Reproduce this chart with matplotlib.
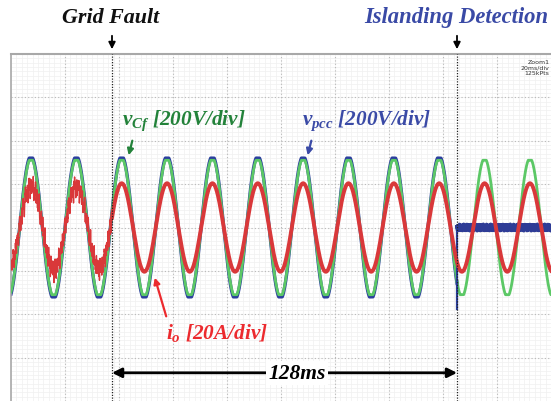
import numpy as np
import matplotlib
matplotlib.use("Agg")
import matplotlib.pyplot as plt

# ---------------- data ----------------
time_window_ms = [0.0, 200.0]          # 10 div x 20 ms/div
volt_div_range = [-4.0, 4.0]           # 8 vertical divisions
period_ms = 16.8                       # one grid cycle
first_peak_ms = 7.4                    # time of first voltage peak
fault_ms = 37.4                        # grid fault instant
islanding_ms = 165.2                   # islanding detection instant
v_amp_div = [1.55, 1.55]               # v_Cf amplitude (div) before / after islanding
vpcc_amp_div = 1.60                    # v_pcc amplitude before islanding (div)
vpcc_islanded_div = 0.0                # v_pcc level after islanding (div)
vpcc_spike_div = -1.87                 # v_pcc transient at islanding (div)
io_amp_div = [0.95, 1.02]              # i_o amplitude before / after the fault
# pre-fault current ripple components: (frequency kHz, amplitude div)
io_ripple = [(1.37, 0.09), (2.31, 0.08), (3.73, 0.07), (5.93, 0.05), (0.83, 0.05), (8.3, 0.04)]
# small noise band of islanded v_pcc: (frequency kHz, amplitude div)
vpcc_ripple = [(3.3, 0.03), (5.1, 0.025), (7.7, 0.02)]

event_labels = ["Grid Fault", "Islanding Detection"]
trace_labels = ["v_{Cf}", "v_{pcc}", "i_o"]
trace_scales = ["[200V/div]", "[200V/div]", "[20A/div]"]
interval_label = "128ms"
scope_info = "Zoom1\n20ms/div\n125kPts"

# ---------------- figure ----------------
W, H = 551, 402
plt.rcParams["mathtext.fontset"] = "custom"
plt.rcParams["mathtext.it"] = "Liberation Serif:italic:bold"
plt.rcParams["mathtext.rm"] = "Liberation Serif:bold"
fig = plt.figure(figsize=(W / 100, H / 100), dpi=100)

def fx(px):
    return px / W

def fy(py):
    return 1 - py / H

ax = fig.add_axes([fx(11), 0.0, 1 - fx(11), fy(55)])
ax.set_xlim(*time_window_ms)
ax.set_ylim(*volt_div_range)

# grid
for i in range(0, 101):
    ax.axvline(i * 2.0, color="#f0f0f0", lw=0.5, zorder=0)
for i in range(0, 81):
    ax.axhline(-4 + i * 0.1, color="#f0f0f0", lw=0.5, zorder=0)
for i in range(1, 10):
    ax.axvline(i * 20.0, color="#b8b8b8", lw=0.8, ls=(0, (1, 2)), zorder=0.5)
for i in range(-3, 4):
    ax.axhline(i, color="#b8b8b8", lw=0.8, ls=(0, (1, 2)), zorder=0.5)
ax.set_xticks([])
ax.set_yticks([])
for s in ["right", "bottom"]:
    ax.spines[s].set_visible(False)
ax.spines["left"].set_color("#a8a8a8")
ax.spines["left"].set_linewidth(1.2)
ax.spines["top"].set_color("#a8a8a8")
ax.spines["top"].set_linewidth(1.5)

# waveforms
t = np.linspace(time_window_ms[0], time_window_ms[1], 12000)
phase = 2 * np.pi * (t - first_peak_ms) / period_ms
base = np.cos(phase)

v_cf = np.where(t < islanding_ms, v_amp_div[0], v_amp_div[1]) * np.clip(base * 1.03, -1, 1)
v_pcc_pre = vpcc_amp_div * np.clip(base * 1.03, -1, 1)
v_ripple = sum(a * np.sin(2 * np.pi * f * t + 0.7 * k) for k, (f, a) in enumerate(vpcc_ripple))
v_pcc = np.where(t < islanding_ms, v_pcc_pre, vpcc_islanded_div + v_ripple)

i_ripple = sum(a * np.sin(2 * np.pi * f * t + k) for k, (f, a) in enumerate(io_ripple))
i_o = np.where(t < fault_ms, io_amp_div[0] * base + i_ripple, io_amp_div[1] * base)

pre = t < islanding_ms
post = t >= islanding_ms
ax.plot(t[pre], v_pcc[pre], color="#2b3f9e", lw=2.4, zorder=2)
ax.plot(t[pre], v_cf[pre], color="#5cc866", lw=2.0, zorder=3)
ax.plot(t[post], v_cf[post], color="#5cc866", lw=2.0, zorder=3)
ax.plot(t[post], v_pcc[post], color="#2e3c96", lw=2.6, zorder=4)
ax.plot([islanding_ms, islanding_ms], [vpcc_spike_div, vpcc_islanded_div],
        color="#2b3f9e", lw=1.6, zorder=4)

fault = t < fault_ms
ax.plot(t[fault], i_o[fault], color="#d9383a", lw=1.0, zorder=5)
ax.plot(t[~fault], i_o[~fault], color="#d9383a", lw=2.8, zorder=5)

# event markers
for ev in [fault_ms, islanding_ms]:
    ax.axvline(ev, color="#222222", lw=0.9, ls=(0, (1, 1.2)), zorder=6)

# interval arrow
ax.annotate("", xy=(fault_ms, -3.35), xytext=(islanding_ms, -3.35),
            arrowprops=dict(arrowstyle="<|-|>", color="black", lw=2.0,
                            mutation_scale=14, shrinkA=0, shrinkB=0), zorder=7)
ax.text(106.0, -3.35, interval_label, ha="center", va="center",
        fontsize=15.5, family="Liberation Serif", weight="bold", style="italic",
        color="black", zorder=8,
        bbox=dict(facecolor="white", edgecolor="none", pad=1.5))

# scope info
ax.text(199.5, 3.88, scope_info, ha="right", va="top", fontsize=4.5,
        family="DejaVu Sans", color="#333333", linespacing=1.1)

# titles
tf = dict(family="Liberation Serif", weight="bold", style="italic")
fig.text(fx(111), fy(18), event_labels[0], ha="center", va="center", fontsize=15.8,
         color="#111111", **tf)
fig.text(fx(456), fy(18), event_labels[1], ha="center", va="center", fontsize=16.3,
         color="#3a4aa6", **tf)
for xp in [112, 457]:
    fig.add_artist(matplotlib.patches.FancyArrowPatch(
        (fx(xp), fy(34)), (fx(xp), fy(53)), transform=fig.transFigure,
        arrowstyle="-|>", mutation_scale=10, color="black", lw=1.3))

# trace labels
fig.text(fx(122), fy(121), r"$%s$ %s" % (trace_labels[0], trace_scales[0]), ha="left",
         va="center", fontsize=15.3, color="#23823a", **tf)
fig.text(fx(302), fy(121), r"$%s$ %s" % (trace_labels[1], trace_scales[1]), ha="left",
         va="center", fontsize=15.3, color="#3a4aa6", **tf)
fig.text(fx(166), fy(333), r"$%s$ %s" % (trace_labels[2], trace_scales[2]), ha="left",
         va="center", fontsize=15.3, color="#ec2a2e", **tf)

for (x0, y0, x1, y1, col) in [(133, 139, 128, 159, "#23823a"),
                              (312, 139, 307, 159, "#3a4aa6"),
                              (167, 320, 154, 276, "#ec2a2e")]:
    fig.add_artist(matplotlib.patches.FancyArrowPatch(
        (fx(x0), fy(y0)), (fx(x1), fy(y1)), transform=fig.transFigure,
        arrowstyle="-|>", mutation_scale=9, color=col, lw=1.6))

fig.savefig("out.png", dpi=100)
